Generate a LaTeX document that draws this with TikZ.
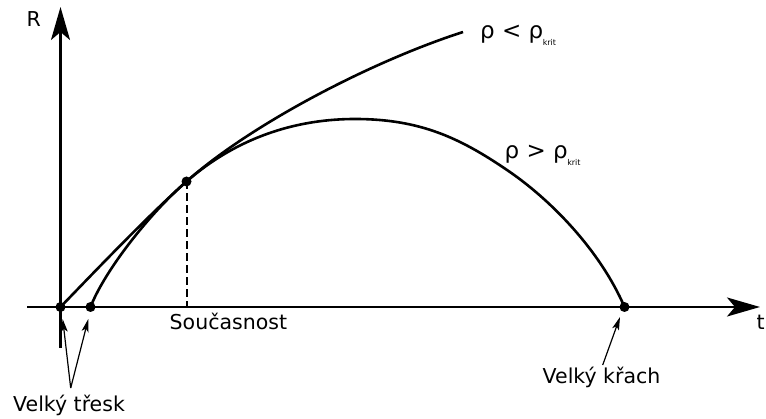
\documentclass[tikz,border=0pt]{standalone}
\usepackage{fontspec}
\setmainfont{DejaVu Sans}
\usetikzlibrary{arrows.meta}
\begin{document}
\begin{tikzpicture}[x=1pt,y=-1pt,
  axis/.style={line width=2.4pt,-{Stealth[length=33pt,width=19pt,inset=8pt]}},
  curve/.style={line width=2.6pt,line join=round},
  dot/.style={circle,fill=black,inner sep=0pt,minimum size=10pt},
  pointer/.style={line width=1.2pt,-{Stealth[length=13pt,width=7pt,inset=3pt]}},
  lbl/.style={inner sep=0pt,anchor=base west,font=\fontsize{20.5}{24}\selectfont},
  rholbl/.style={inner sep=0pt,anchor=base west,font=\fontsize{23}{26}\selectfont}]
\useasboundingbox (0,0) rectangle (766,419);
% axes
\coordinate (xs) at (27,307);
\coordinate (xe) at (760,307);
\coordinate (ys) at (60.5,348);
\coordinate (ye) at (60.5,7);
\draw[axis] (xs) -- (xe);
\draw[axis] (ys) -- (ye);
% points
\node[dot] (o1) at (60.5,307) {};
\node[dot] (o2) at (90.5,307) {};
\node[dot] (now) at (186.5,181.5) {};
\node[dot] (end) at (624.5,307) {};
\coordinate (peak) at (355,119);
\coordinate (fall) at (507,170);
\coordinate (open) at (463,32);
% curves
\draw[curve] (o1.center) .. controls (100,266) and (150,214) .. (now.center)
  .. controls (250,125) and (370,62) .. (open);
\draw[curve] (o2.center) .. controls (105,270) and (150,213) .. (now.center)
  .. controls (240,135) and (300,119) .. (peak)
  .. controls (420,119) and (460,138) .. (fall)
  .. controls (550,199) and (600,250) .. (end.center);
% dashed line
\draw[line width=2pt,dash pattern=on 8pt off 4pt] (now.center) -- (now.center |- o1.center);
% labels
\node[lbl] (R) at (26.5,27) {R};
\node[lbl] (t) at (756.5,330) {t};
\node[lbl] (sou) at (169.5,330) {Současnost};
\node[lbl] (vt) at (13,411.7) {Velký třesk};
\node[lbl] (vk) at (542.5,383.3) {Velký křach};
\node[rholbl] (rl) at (480,39) {ρ < ρ\kern-0.5pt\raisebox{-6.5pt}{\fontsize{8}{8}\selectfont krit}};
\node[rholbl] (rg) at (504.5,159) {ρ > ρ\kern-0.5pt\raisebox{-6.5pt}{\fontsize{8}{8}\selectfont krit}};
% pointers
\coordinate (vtf) at (70.7,388);
\coordinate (vt1) at (62.7,319);
\coordinate (vt2) at (88.3,319);
\coordinate (vkf) at (602.7,365);
\coordinate (vk1) at (620,317);
\draw[pointer] (vtf) -- (vt1);
\draw[pointer] (vtf) -- (vt2);
\draw[pointer] (vkf) -- (vk1);
\end{tikzpicture}
\end{document}
